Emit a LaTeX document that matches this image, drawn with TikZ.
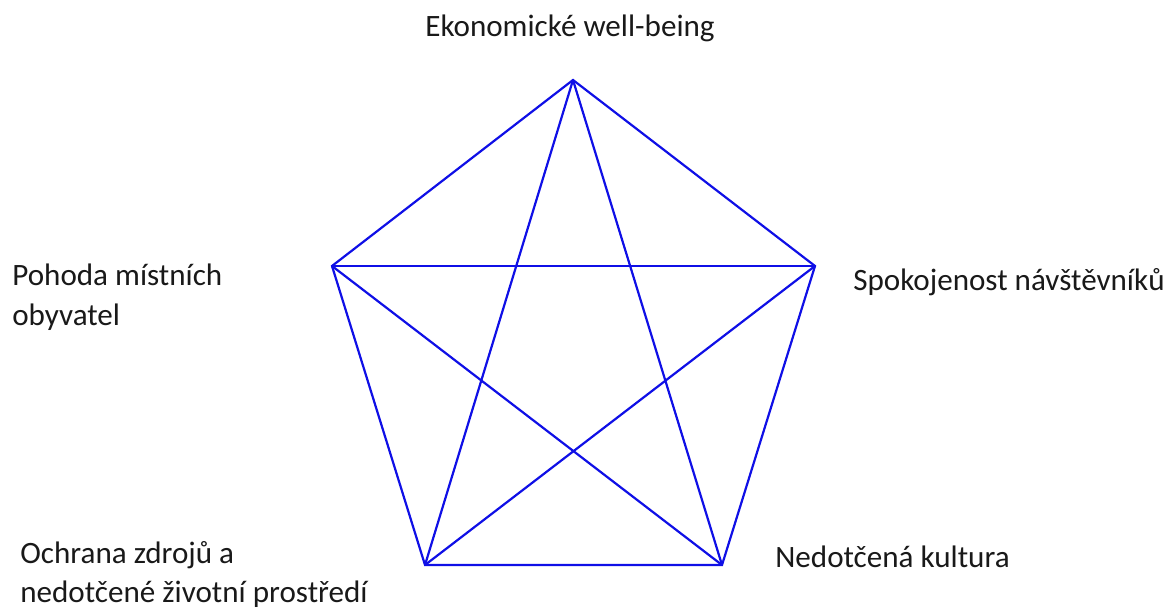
\documentclass[tikz,border=0pt]{standalone}
\usepackage{fontspec}
\setmainfont{Carlito}
\usepackage{tikz}
\usetikzlibrary{positioning}
\definecolor{starBlue}{RGB}{15, 15, 230}
\definecolor{labelInk}{RGB}{25, 25, 25}

\begin{document}
\begin{tikzpicture}[
  x=0.02cm, y=-0.02cm,
  vertex/.style={inner sep=0pt, minimum size=0pt},
  label/.style={inner sep=0pt, text=labelInk, align=left,
                font=\fontsize{17.7}{22.2}\selectfont},
  edge/.style={draw=starBlue, line width=1.25pt, line join=miter}
]
  \useasboundingbox (0,0) rectangle (1167,612);

  % Vrcholy
  \node[vertex] (eko)  at (573, 80)  {};
  \node[vertex] (spok) at (815, 266) {};
  \node[vertex] (kult) at (722, 565) {};
  \node[vertex] (zdr)  at (425, 565) {};
  \node[vertex] (poh)  at (332, 266) {};

  % Popisky
  \node[label, anchor=base] (t_eko) at (570, 36) {Ekonomické well-being};
  \node[label, anchor=base west] (t_spok) at (853, 290) {Spokojenost návštěvníků};
  \node[label, anchor=base west] (t_kult) at (775, 567) {Nedotčená kultura};
  \node[label, anchor=base west] (t_poh)  at (12, 325) {Pohoda místních\\obyvatel};
  \node[label, anchor=base west] (t_zdr)  at (20, 602) {Ochrana zdrojů a\\nedotčené životní prostředí};

  % Pětiúhelník
  \draw[edge] (eko.center) -- (spok.center) -- (kult.center) -- (zdr.center) -- (poh.center) -- cycle;

  % Úhlopříčky
  \draw[edge] (eko.center)  -- (kult.center);
  \draw[edge] (eko.center)  -- (zdr.center);
  \draw[edge] (spok.center) -- (zdr.center);
  \draw[edge] (spok.center) -- (poh.center);
  \draw[edge] (kult.center) -- (poh.center);
\end{tikzpicture}
\end{document}
